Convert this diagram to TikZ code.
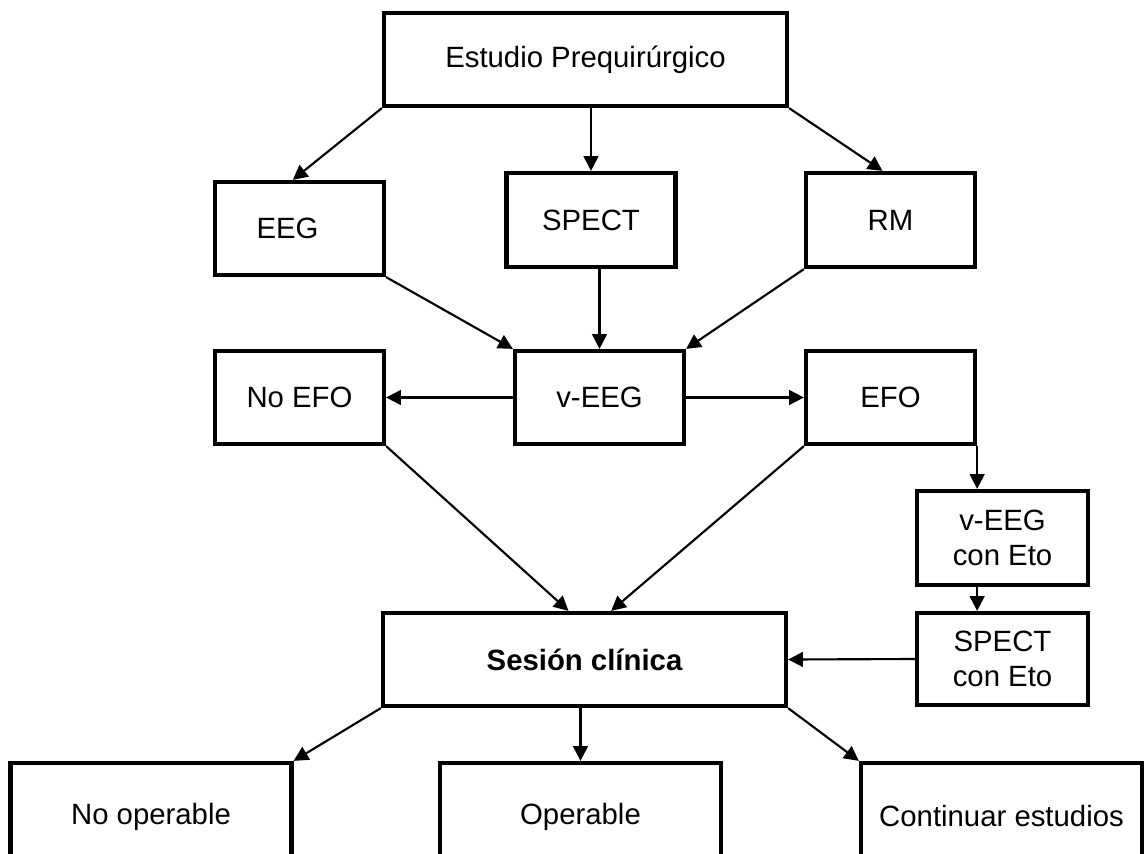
\documentclass[tikz,border=0pt]{standalone}
\usepackage{fontspec}
\setmainfont{Liberation Sans}
\usetikzlibrary{arrows.meta}
\begin{document}
\begin{tikzpicture}[x=0.75pt, y=-0.75pt,
    box/.style={draw, line width=3.2pt, minimum width=126.75pt, minimum height=69.75pt,
        inner sep=2pt, align=center, font=\fontsize{22}{26}\selectfont},
    widebox/.style={box, minimum width=302.25pt},
    lowbox/.style={box, minimum width=210.75pt, minimum height=80.25pt},
    arr/.style={line width=1.6pt, -{Triangle[length=11pt, width=11pt]}}]
    \useasboundingbox (0, 0) rectangle (1145, 853);
    \clip (0, 0) rectangle (1145, 853);
    \node[widebox] (pre) at (585.5, 59.5) {Estudio Prequirúrgico};
    \node[box] (eeg) at (299.5, 228.5) {EEG\hspace*{18pt}};
    \node[box, minimum height=70.5pt] (spect) at (591, 220) {SPECT};
    \node[box, minimum height=70.5pt] (rm) at (890.5, 220) {RM};
    \node[box] (noefo) at (299.5, 397.5) {No EFO};
    \node[box] (veeg) at (599.5, 397.5) {v-EEG};
    \node[box] (efo) at (890.5, 397.5) {EFO};
    \node[box, minimum width=128.25pt, minimum height=70.5pt] (veto) at (1002.5, 538) {v-EEG\\con Eto};
    \node[box, minimum width=128.25pt, minimum height=69pt] (speto) at (1002.5, 659) {SPECT\\con Eto};
    \node[widebox] (sesion) at (584.5, 659.5) {\bfseries Sesión clínica};
    \node[lowbox] (noop) at (151, 816.5) {No operable};
    \node[lowbox] (op) at (580.5, 816.5) {Operable};
    \node[lowbox] (cont) at (1001.5, 816.5) {Continuar estudios};
    \draw[arr] (pre.south west) -- ([xshift=-5pt]eeg.north);
    \draw[arr] (spect.north |- pre.south) -- (spect.north);
    \draw[arr] (pre.south east) -- ([xshift=-6pt]rm.north);
    \draw[arr] (eeg.south east) -- (veeg.north west);
    \draw[arr] (veeg.north |- spect.south) -- (veeg.north);
    \draw[arr] (rm.south west) -- (veeg.north east);
    \draw[arr] (veeg.west) -- (noefo.east);
    \draw[arr] (veeg.east) -- (efo.west);
    \draw[arr] (noefo.south east) -- ([xshift=-12pt]sesion.north);
    \draw[arr] (efo.south west) -- ([xshift=20pt]sesion.north);
    \draw[arr] (efo.south east) -- (efo.south east |- veto.north);
    \draw[arr] (veto.south -| efo.east) -- (speto.north -| efo.east);
    \draw[arr] (speto.west) -- (sesion.east);
    \draw[arr] (sesion.south west) -- (noop.north east);
    \draw[arr] (op.north |- sesion.south) -- (op.north);
    \draw[arr] (sesion.south east) -- (cont.north west);
\end{tikzpicture}
\end{document}
